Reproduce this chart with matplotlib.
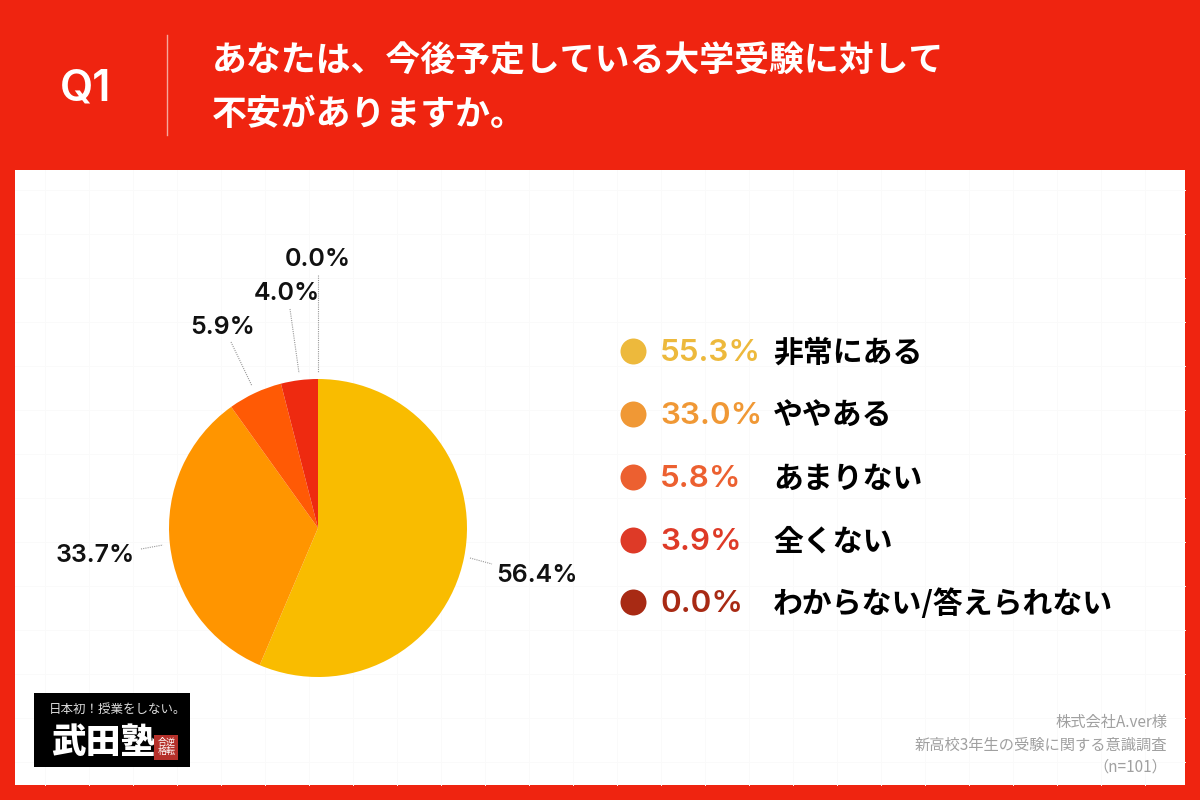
import matplotlib
matplotlib.use("Agg")
import matplotlib.pyplot as plt
from matplotlib.patches import Rectangle

jp = ["Noto Sans CJK JP", "DejaVu Sans"]
lat = ["Inter", "Noto Sans CJK JP"]

# data
title_lines = ["あなたは、今後予定している大学受験に対して", "不安がありますか。"]
pie_values = [56.4, 33.7, 5.9, 4.0, 0.0]
pie_colors = ["#F9BC00", "#FF9500", "#FF5A05", "#EE2A10", "#B02A10"]
legend_pct = ["55.3%", "33.0%", "5.8%", "3.9%", "0.0%"]
legend_names = ["非常にある", "ややある", "あまりない", "全くない", "わからない/答えられない"]
legend_colors = ["#EDB93C", "#F09835", "#EC6030", "#DE3A27", "#A82A14"]
source_lines = ["株式会社A.ver様", "新高校3年生の受験に関する意識調査", "（n=101）"]

red = "#EF2410"

fig = plt.figure(figsize=(12, 8), dpi=100, facecolor=red)

# overlay in pixel coords
bg = fig.add_axes([0, 0, 1, 1], zorder=0)
bg.set_xlim(0, 1200)
bg.set_ylim(800, 0)
bg.axis("off")

bg.add_patch(Rectangle((15, 170), 1170, 615, fc="white", ec="none"))
# faint grid on the panel
for x in range(45, 1185, 44):
    bg.plot([x, x], [170, 785], color="#FAFAFA", lw=0.7, zorder=1)
for y in range(190, 785, 44):
    bg.plot([15, 1185], [y, y], color="#FAFAFA", lw=0.7, zorder=1)

# header
bg.text(60, 89, "Q1", color="white", fontsize=31, fontweight="semibold", family=lat, va="center", ha="left")
bg.plot([167, 167], [35, 135], color="#F6A79C", lw=1)
bg.text(212, 61, title_lines[0], color="white", fontsize=25.1, fontweight="bold", family=jp, va="center")
bg.text(212, 115, title_lines[1], color="white", fontsize=25.1, fontweight="bold", family=jp, va="center")

# pie
ax = fig.add_axes([169 / 1200, (800 - 677) / 800, 298 / 1200, 298 / 800], zorder=2)
ax.pie(pie_values, colors=pie_colors, startangle=90, counterclock=False, radius=1)
ax.set_xlim(-1, 1)
ax.set_ylim(-1, 1)

# pie labels and leader lines
labels = ["56.4%", "33.7%", "5.9%", "4.0%", "0.0%"]
label_xy = [(537, 575), (95, 556), (223, 328), (287, 294), (318, 260)]
leader = [((470, 558), (492, 564)), ((141, 549), (163, 545)),
          ((231, 342), (252, 386)), ((290, 309), (299, 373)), ((318, 275), (318, 372))]
for s, (x, y), (p0, p1) in zip(labels, label_xy, leader):
    bg.text(x, y, s, color="#111111", fontsize=18, fontweight="semibold", family=lat, ha="center", va="center")
    bg.plot([p0[0], p1[0]], [p0[1], p1[1]], color="#999999", lw=0.8, ls=(0, (1, 1)))

# legend
legend_y = [351, 414, 477, 540, 602]
for y, pct, name, col in zip(legend_y, legend_pct, legend_names, legend_colors):
    bg.scatter([633], [y], s=350, color=col, linewidths=0, zorder=3)
    bg.text(660, y + 2, pct, color=col, fontsize=22.6, fontweight="semibold", family=lat, va="center")
    bg.text(773, y + 2, name, color="#000000", fontsize=21.5, fontweight="bold", family=jp, va="center")

# logo
bg.add_patch(Rectangle((34, 693), 156, 74, fc="#000000", ec="none", zorder=3))
bg.text(118, 709, "日本初！授業をしない。", color="#DDDDDD", fontsize=9, family=jp, ha="center", va="center", zorder=4)
bg.text(103, 743, "武田塾", color="white", fontsize=25, fontweight="black", family=jp, ha="center", va="center", zorder=4)
bg.add_patch(Rectangle((154, 735), 24, 25, fc="#B5302A", ec="none", zorder=4))
bg.text(167, 747, "合逆\n格転", color="white", fontsize=6.5, family=jp, ha="center", va="center", linespacing=1.0, zorder=5)

# source note
for y, s in zip([721, 744, 766], source_lines):
    bg.text(1167, y + 1, s, color="#A0A0A0", fontsize=11, family=jp, ha="right", va="center")

fig.savefig("out.png", dpi=100, facecolor=red)
